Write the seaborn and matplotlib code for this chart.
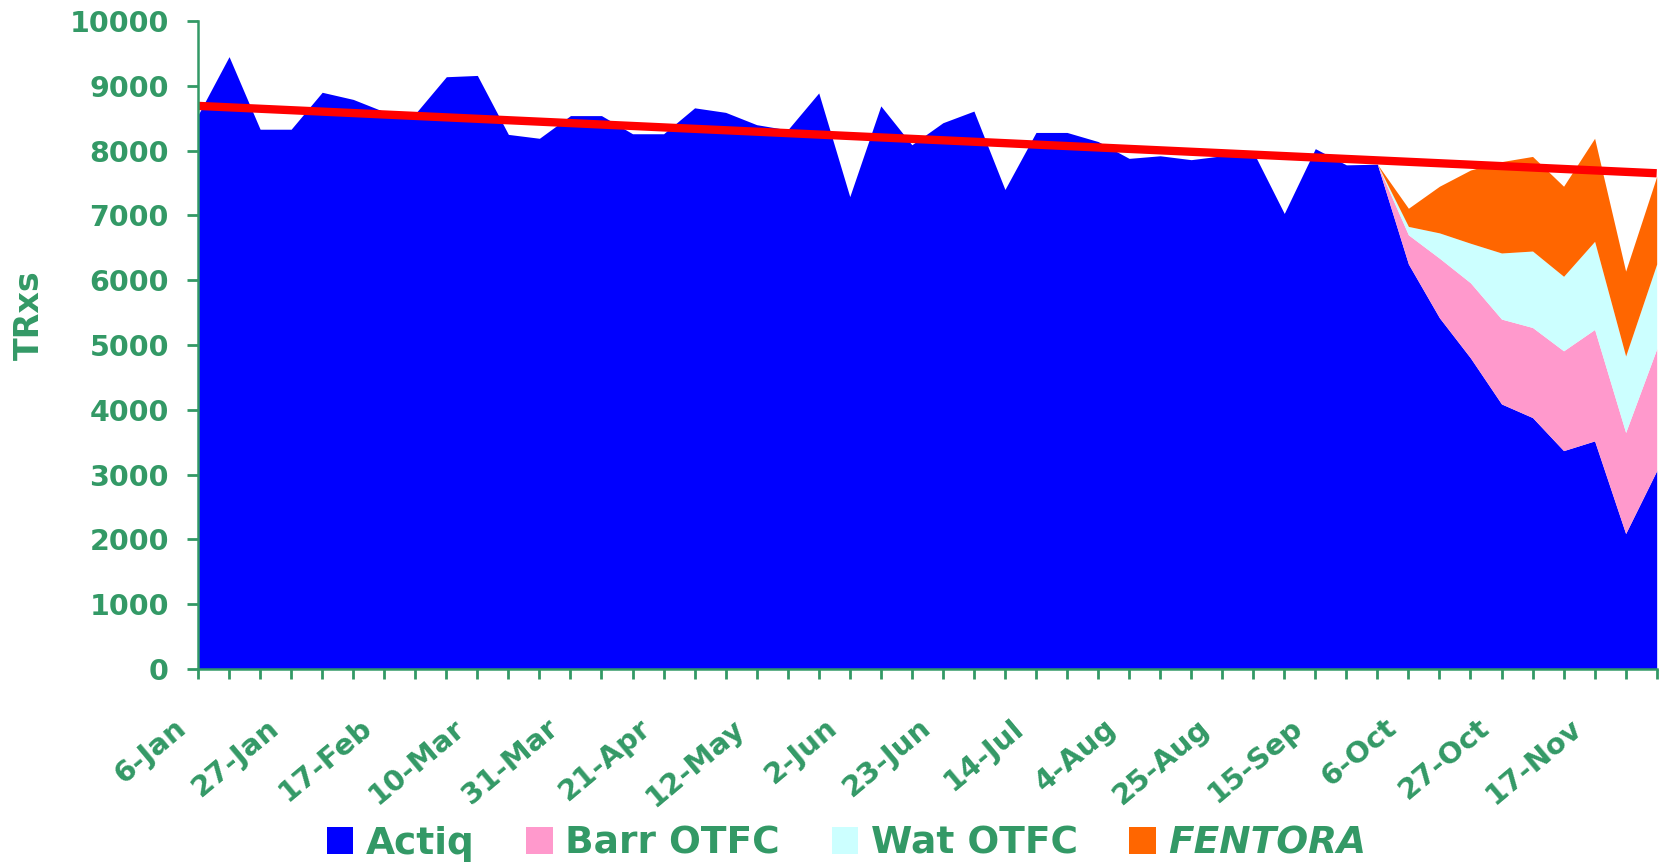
"""weekly TRxs for Actiq and the generic OTFC / FENTORA launch"""

import numpy as np
import pandas as pd
import matplotlib
matplotlib.use("Agg")
import matplotlib.pyplot as plt
import matplotlib.transforms as mtrans
import seaborn as sns


tick_labels = ["6-Jan", "27-Jan", "17-Feb", "10-Mar", "31-Mar", "21-Apr", "12-May", "2-Jun",
               "23-Jun", "14-Jul", "4-Aug", "25-Aug", "15-Sep", "6-Oct", "27-Oct", "17-Nov"]

actiq = [8550, 9450, 8330, 8330, 8900, 8790, 8600, 8570, 9140, 9160, 8250, 8190,
         8540, 8540, 8260, 8260, 8660, 8590, 8400, 8320, 8890, 7290, 8690, 8090,
         8430, 8610, 7400, 8280, 8280, 8140, 7880, 7920, 7860, 7920, 7980, 7030,
         8030, 7780, 7790, 6250, 5420, 4800, 4090, 3880, 3370, 3520, 2090, 3060]

barr_otfc = [0, 0, 0, 0, 0, 0, 0, 0, 0, 0, 0, 0,
             0, 0, 0, 0, 0, 0, 0, 0, 0, 0, 0, 0,
             0, 0, 0, 0, 0, 0, 0, 0, 0, 0, 0, 0,
             0, 0, 0, 450, 920, 1160, 1310, 1390, 1540, 1720, 1560, 1880]

wat_otfc = [0, 0, 0, 0, 0, 0, 0, 0, 0, 0, 0, 0,
            0, 0, 0, 0, 0, 0, 0, 0, 0, 0, 0, 0,
            0, 0, 0, 0, 0, 0, 0, 0, 0, 0, 0, 0,
            0, 0, 0, 130, 390, 610, 1020, 1180, 1150, 1360, 1180, 1310]

fentora = [0, 0, 0, 0, 0, 0, 0, 0, 0, 0, 0, 0,
           0, 0, 0, 0, 0, 0, 0, 0, 0, 0, 0, 0,
           0, 0, 0, 0, 0, 0, 0, 0, 0, 0, 0, 0,
           0, 0, 0, 280, 720, 1130, 1410, 1460, 1390, 1590, 1310, 1350]

# trend line as drawn on the slide (first week, last week)
trend_values = [8690, 7650]

series_names = ["Actiq", "Barr OTFC", "Wat OTFC", "FENTORA"]
series_colours = ["#0000FF", "#FF99CC", "#CCFFFF", "#FF6600"]
green = "#339966"

df = pd.DataFrame({"week": np.arange(len(actiq)), "Actiq": actiq, "Barr OTFC": barr_otfc,
                   "Wat OTFC": wat_otfc, "FENTORA": fentora})
trend_df = pd.DataFrame({"week": [df["week"].iloc[0], df["week"].iloc[-1]], "TRxs": trend_values})

sns.set_style("ticks")
plt.rcParams["font.family"] = ["DejaVu Sans"]

fig = plt.figure(figsize=(16.6, 8.68), dpi=100)
ax = fig.add_axes([0.1193, 0.2293, 0.8787, 0.7465])

polys = ax.stackplot(df["week"], [df[n] for n in series_names], colors=series_colours,
                     labels=series_names, linewidth=0)

sns.lineplot(data=trend_df, x="week", y="TRxs", ax=ax, color="#FF0000", linewidth=6,
             solid_capstyle="butt", legend=False)

ax.set_xlim(df["week"].min(), df["week"].max())
ax.set_ylim(0, 10000)
ax.set_yticks(np.arange(0, 10001, 1000))
ax.set_xticks(df["week"][::3])
ax.set_xticks(df["week"], minor=True)

ax.tick_params(axis="y", which="major", length=8, width=2, color=green, pad=13,
               labelsize=20.5, labelcolor=green)
ax.tick_params(axis="x", which="both", length=7, width=2, color=green, pad=25,
               labelsize=21, labelcolor=green)

ax.set_xticklabels(tick_labels, rotation=40, ha="right", va="top", rotation_mode="anchor")
for lab in ax.get_xticklabels() + ax.get_yticklabels():
    lab.set_fontweight("bold")

# labels sit a little left of their ticks on the slide
offset = mtrans.ScaledTranslation(-0.25, 0, fig.dpi_scale_trans)
for tick in ax.xaxis.get_major_ticks():
    tick.label1.set_transform(tick.label1.get_transform() + offset)

for side in ["top", "right"]:
    ax.spines[side].set_visible(False)
for side in ["left", "bottom"]:
    ax.spines[side].set_color(green)
    ax.spines[side].set_linewidth(1.8)

ax.set_xlabel("")
ax.set_ylabel("TRxs", fontsize=24, fontweight="bold", color=green)
ax.yaxis.set_label_coords(-0.104, 0.546)

leg = fig.legend(polys, series_names, loc="center", bbox_to_anchor=(0.51, 0.028), ncol=4,
                 frameon=False, prop=dict(weight="bold", size=27), labelcolor=green,
                 handlelength=0.7, handleheight=0.7, handletextpad=0.34, columnspacing=1.38)
leg.get_texts()[3].set_style("italic")

fig.savefig("out.png", dpi=100)
plt.close()
